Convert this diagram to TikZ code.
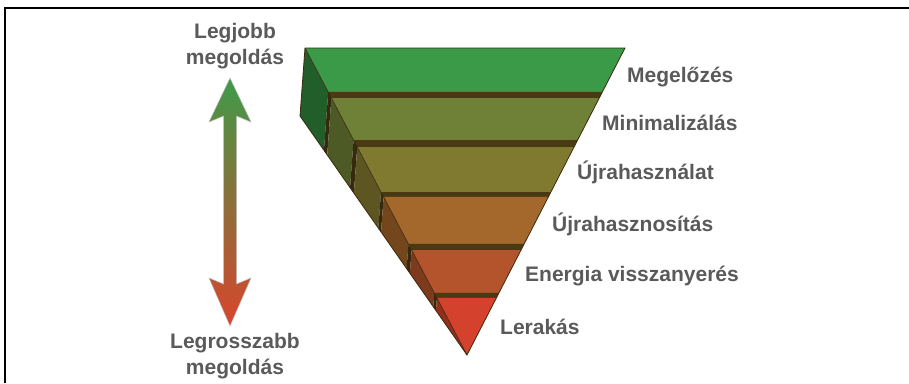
\documentclass[tikz,border=0pt]{standalone}
\usepackage{fontspec}
\setmainfont{Liberation Sans}
\usetikzlibrary{calc}
\definecolor{bandA}{HTML}{3B9A47}
\definecolor{bandB}{HTML}{6E8136}
\definecolor{bandC}{HTML}{807A30}
\definecolor{bandD}{HTML}{A4682C}
\definecolor{bandE}{HTML}{B4542C}
\definecolor{bandF}{HTML}{D4412C}
\definecolor{sideA}{HTML}{225E2A}
\definecolor{sideB}{HTML}{4D5A26}
\definecolor{sideC}{HTML}{5E5622}
\definecolor{sideD}{HTML}{73461C}
\definecolor{sideE}{HTML}{7E3A1C}
\definecolor{sideF}{HTML}{962E1C}
\definecolor{stripF}{HTML}{4A3A14}
\definecolor{stripS}{HTML}{35290E}
\definecolor{edgecol}{HTML}{3A2A10}
\definecolor{labelgray}{HTML}{5A5A5A}
\definecolor{arrtop}{HTML}{3F9A48}
\definecolor{arrmid}{HTML}{7C7030}
\definecolor{arrbot}{HTML}{D9452C}
\tikzset{
  lbl/.style={font=\bfseries\fontsize{21}{26}\selectfont, text=labelgray, inner sep=0pt},
  sidelbl/.style={lbl, align=center, anchor=north},
  steplbl/.style={lbl, anchor=base west}
}
\begin{document}
\begin{tikzpicture}[x=1pt,y=-1pt]
\useasboundingbox (0,0) rectangle (909,383);
\fill[white] (0,0) rectangle (909,383);
% frame
\draw[line width=1.6pt] (5,383) -- (5,8) -- (909,8);
% pyramid corners
\coordinate (A) at (305,48);
\coordinate (B) at (625,48);
\coordinate (C) at (467,355);
\coordinate (D) at (300,116);
\foreach \ta/\tb/\fc/\sc in {
  0/0.1433/bandA/sideA, 0.1433/0.1629/stripF/stripS,
  0.1629/0.2997/bandB/sideB, 0.2997/0.3225/stripF/stripS,
  0.3225/0.4691/bandC/sideC, 0.4691/0.4853/stripF/stripS,
  0.4853/0.6384/bandD/sideD, 0.6384/0.6580/stripF/stripS,
  0.6580/0.7980/bandE/sideE, 0.7980/0.8143/stripF/stripS,
  0.8143/1/bandF/sideF}{
  \fill[\fc] ($(A)!\ta!(C)$) -- ($(B)!\ta!(C)$) -- ($(B)!\tb!(C)$) -- ($(A)!\tb!(C)$) -- cycle;
  \fill[\sc] ($(A)!\ta!(C)$) -- ($(A)!\tb!(C)$) -- ($(D)!\tb!(C)$) -- ($(D)!\ta!(C)$) -- cycle;
}
\draw[edgecol, line width=0.6pt, line join=round] (A) -- (C);
\draw[edgecol, line width=0.8pt, line join=round] (C) -- (D) -- (A) -- (B) -- cycle;
% gradient double arrow
\shade[top color=arrtop, middle color=arrmid, bottom color=arrbot, draw=gray!50, line width=0.5pt]
  (230,78) -- (251,122) -- (236.5,116) -- (236.5,284) -- (251,278) -- (230,326)
  -- (209,278) -- (223.5,284) -- (223.5,116) -- (209,122) -- cycle;
% labels
\node[sidelbl] (best) at (235,23) {Legjobb\\megoldás};
\node[sidelbl] (worst) at (235,333) {Legrosszabb\\megoldás};
\node[steplbl] (l1) at (627,82) {Megelőzés};
\node[steplbl] (l2) at (602,130) {Minimalizálás};
\node[steplbl] (l3) at (577,179) {Újrahasználat};
\node[steplbl] (l4) at (552,231) {Újrahasznosítás};
\node[steplbl] (l5) at (525,281) {Energia visszanyerés};
\node[steplbl] (l6) at (500,334) {Lerakás};
\end{tikzpicture}
\end{document}
